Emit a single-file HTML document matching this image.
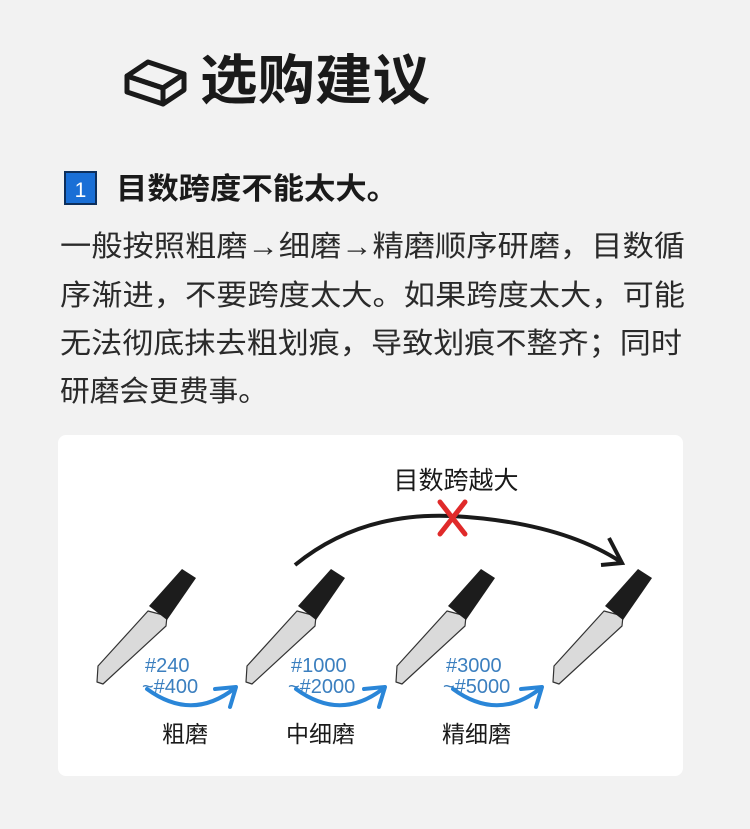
<!DOCTYPE html>
<html><head><meta charset="utf-8"><style>
html,body{margin:0;padding:0;background:#f2f2f2;}
svg{display:block}
text{font-family:"Liberation Sans","Noto Sans CJK SC",sans-serif;}
</style></head><body>
<svg width="750" height="829" viewBox="0 0 750 829" xmlns="http://www.w3.org/2000/svg">
<rect width="750" height="829" fill="#f2f2f2"/>
<g fill="none" stroke="#1a1a1a" stroke-width="5" stroke-linejoin="round">
<polygon points="127,76 148,62 184,74 163,88"/>
<polygon points="127,76 127,92 163,104 163,88"/>
<polygon points="163,88 184,74 184,90 163,104"/>
</g>
<text x="200" y="99" font-size="54" font-weight="bold" fill="#1a1a1a" textLength="230" lengthAdjust="spacingAndGlyphs">选购建议</text>
<rect x="65" y="172" width="31" height="32" fill="#1a6fd6" stroke="#0d2f5c" stroke-width="2"/>
<text x="80.5" y="197" font-size="21" fill="#fff" text-anchor="middle">1</text>
<text x="116" y="199" font-size="30" font-weight="bold" fill="#1a1a1a" textLength="282" lengthAdjust="spacingAndGlyphs">目数跨度不能太大。</text>
<g font-size="29" fill="#2a2a2a">
<text x="60" y="256" textLength="625" lengthAdjust="spacingAndGlyphs">一般按照粗磨→细磨→精磨顺序研磨，目数循</text>
<text x="60" y="305" textLength="625" lengthAdjust="spacingAndGlyphs">序渐进，不要跨度太大。如果跨度太大，可能</text>
<text x="60" y="353" textLength="622" lengthAdjust="spacingAndGlyphs">无法彻底抹去粗划痕，导致划痕不整齐；同时</text>
<text x="60" y="401" textLength="208" lengthAdjust="spacingAndGlyphs">研磨会更费事。</text>
</g>
<rect x="58" y="435" width="625" height="341" rx="8" fill="#ffffff"/>
<defs>
<g id="knife">
<path d="M48,-73 L-2,-18 L-3,-2 L3,0 L66,-58 L67,-68 Z" fill="#dadada" stroke="#333" stroke-width="1.2" stroke-linejoin="round"/>
<polygon points="49,-78 82,-115 96,-106 67,-64" fill="#1c1c1c"/>
</g>
</defs>
<use href="#knife" x="100" y="684"/>
<use href="#knife" x="249" y="684"/>
<use href="#knife" x="399" y="684"/>
<use href="#knife" x="556" y="684"/>
<path d="M295,565 Q360,512 452,516 Q560,522 621,562" fill="none" stroke="#1a1a1a" stroke-width="4"/>
<path d="M609,538 L622,563 L601,565" fill="none" stroke="#1a1a1a" stroke-width="4" stroke-linejoin="miter"/>
<g stroke="#e02a2a" stroke-width="5" stroke-linecap="round">
<line x1="440" y1="502" x2="465" y2="534"/>
<line x1="465" y1="502" x2="440" y2="534"/>
</g>
<text x="456" y="489" font-size="25" fill="#1a1a1a" text-anchor="middle">目数跨越大</text>
<g fill="none" stroke="#2a86d8" stroke-width="4" stroke-linecap="round" stroke-linejoin="round">
<path d="M147,689 Q192,722 235,688"/><path d="M215,689 L236,687 L230,707"/>
<path d="M296,689 Q341,722 384,688"/><path d="M364,689 L385,687 L379,707"/>
<path d="M453,689 Q498,722 541,688"/><path d="M521,689 L542,687 L536,707"/>
</g>
<g font-size="20" fill="#3b7fbf">
<text x="145" y="672">#240</text><text x="142" y="693">~#400</text>
<text x="291" y="672">#1000</text><text x="288" y="693">~#2000</text>
<text x="446" y="672">#3000</text><text x="443" y="693">~#5000</text>
</g>
<g font-size="23" fill="#1a1a1a">
<text x="162" y="742">粗磨</text>
<text x="286" y="742">中细磨</text>
<text x="442" y="742">精细磨</text>
</g>
</svg>
</body></html>
